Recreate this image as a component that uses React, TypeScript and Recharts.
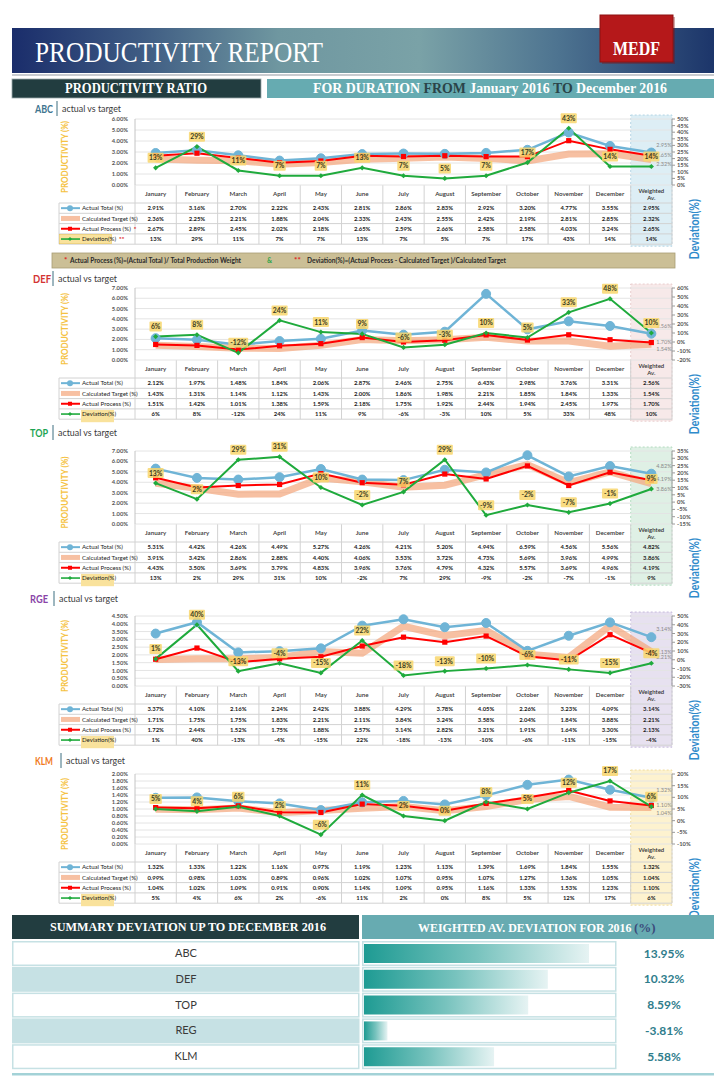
import React from 'react';
import { ComposedChart, Line, XAxis, YAxis, CartesianGrid, LabelList, BarChart, Bar } from 'recharts';

const SANS = "Lato, 'Liberation Sans', 'DejaVu Sans', sans-serif";
const SERIF = "'Liberation Serif', 'DejaVu Serif', serif";

// ---------- data ----------
const MONTHS = ['January', 'February', 'March', 'April', 'May', 'June', 'July', 'August', 'September', 'October', 'November', 'December', 'Weighted Av.'];

const ABC_TOTAL = [2.91, 3.16, 2.70, 2.22, 2.43, 2.81, 2.86, 2.83, 2.92, 3.20, 4.77, 3.55, 2.95];
const ABC_TARGET = [2.36, 2.25, 2.21, 1.88, 2.04, 2.33, 2.43, 2.55, 2.42, 2.19, 2.81, 2.85, 2.32];
const ABC_PROCESS = [2.67, 2.89, 2.45, 2.02, 2.18, 2.65, 2.59, 2.66, 2.58, 2.58, 4.03, 3.24, 2.65];
const ABC_DEV = [13, 29, 11, 7, 7, 13, 7, 5, 7, 17, 43, 14, 14];
const ABC_LEFT_TICKS = [0, 1, 2, 3, 4, 5, 6];
const ABC_RIGHT_TICKS = [0, 5, 10, 15, 20, 25, 30, 35, 40, 45, 50];

const DEF_TOTAL = [2.12, 1.97, 1.48, 1.84, 2.06, 2.87, 2.46, 2.75, 6.43, 2.98, 3.76, 3.31, 2.56];
const DEF_TARGET = [1.43, 1.31, 1.14, 1.12, 1.43, 2.00, 1.86, 1.98, 2.21, 1.85, 1.84, 1.33, 1.54];
const DEF_PROCESS = [1.51, 1.42, 1.01, 1.38, 1.59, 2.18, 1.75, 1.92, 2.44, 1.94, 2.45, 1.97, 1.70];
const DEF_DEV = [6, 8, -12, 24, 11, 9, -6, -3, 10, 5, 33, 48, 10];
const DEF_LEFT_TICKS = [0, 1, 2, 3, 4, 5, 6, 7];
const DEF_RIGHT_TICKS = [-20, -10, 0, 10, 20, 30, 40, 50, 60];

const TOP_TOTAL = [5.31, 4.42, 4.26, 4.49, 5.27, 4.26, 4.21, 5.20, 4.94, 6.59, 4.56, 5.56, 4.82];
const TOP_TARGET = [3.91, 3.42, 2.86, 2.88, 4.40, 4.06, 3.53, 3.72, 4.73, 5.69, 3.96, 4.99, 3.86];
const TOP_PROCESS = [4.43, 3.50, 3.69, 3.79, 4.83, 3.96, 3.76, 4.79, 4.32, 5.57, 3.69, 4.96, 4.19];
const TOP_DEV = [13, 2, 29, 31, 10, -2, 7, 29, -9, -2, -7, -1, 9];
const TOP_LEFT_TICKS = [0, 1, 2, 3, 4, 5, 6, 7];
const TOP_RIGHT_TICKS = [-15, -10, -5, 0, 5, 10, 15, 20, 25, 30, 35];

const RGE_TOTAL = [3.37, 4.10, 2.16, 2.24, 2.42, 3.88, 4.29, 3.78, 4.05, 2.26, 3.23, 4.09, 3.14];
const RGE_TARGET = [1.71, 1.75, 1.75, 1.83, 2.21, 2.11, 3.84, 3.24, 3.58, 2.04, 1.84, 3.88, 2.21];
const RGE_PROCESS = [1.72, 2.44, 1.52, 1.75, 1.88, 2.57, 3.14, 2.82, 3.21, 1.91, 1.64, 3.30, 2.13];
const RGE_DEV = [1, 40, -13, -4, -15, 22, -18, -13, -10, -6, -11, -15, -4];
const RGE_LEFT_TICKS = [0, 0.5, 1, 1.5, 2, 2.5, 3, 3.5, 4, 4.5];
const RGE_RIGHT_TICKS = [-30, -20, -10, 0, 10, 20, 30, 40, 50];

const KLM_TOTAL = [1.32, 1.33, 1.22, 1.16, 0.97, 1.19, 1.23, 1.13, 1.39, 1.69, 1.84, 1.55, 1.32];
const KLM_TARGET = [0.99, 0.98, 1.03, 0.89, 0.96, 1.02, 1.07, 0.95, 1.07, 1.27, 1.36, 1.05, 1.04];
const KLM_PROCESS = [1.04, 1.02, 1.09, 0.91, 0.90, 1.14, 1.09, 0.95, 1.16, 1.33, 1.53, 1.23, 1.10];
const KLM_DEV = [5, 4, 6, 2, -6, 11, 2, 0, 8, 5, 12, 17, 6];
const KLM_LEFT_TICKS = [0, 0.2, 0.4, 0.6, 0.8, 1, 1.2, 1.4, 1.6, 1.8, 2];
const KLM_RIGHT_TICKS = [-10, -5, 0, 5, 10, 15, 20];

const SUMMARY_NAMES = ['ABC', 'DEF', 'TOP', 'REG', 'KLM'];
const SUMMARY_VALUES = [13.95, 10.32, 8.59, -3.81, 5.58];
const BAR_BASE = -5.88;
const BAR_MAX = 16.15;

// ---------- layout ----------
const PLOT_L = 135;
const PLOT_R = 672;
const COL_W = (PLOT_R - PLOT_L) / 13;
const LAX_W = 30;
const RAX_W = 40;
const PAD_T = 18;
const PAD_B = 4;
const HDR_H = 18;
const ROW_H = 10.3;
const LEG_L = 59;

type Section = {
  name: string; color: string;
  total: number[]; target: number[]; process: number[]; dev: number[];
  leftTicks: number[]; rightTicks: number[];
  titleX: number; sepX: number; titleY: number; plotTop: number; plotBottom: number;
  hiFill: string; hiStroke: string; stars: boolean;
};

const SECTIONS: Section[] = [
  { name: 'ABC', color: '#3f7590', total: ABC_TOTAL, target: ABC_TARGET, process: ABC_PROCESS, dev: ABC_DEV, leftTicks: ABC_LEFT_TICKS, rightTicks: ABC_RIGHT_TICKS, titleX: 35, sepX: 57, titleY: 113, plotTop: 119, plotBottom: 185, hiFill: '#ddeef5', hiStroke: '#a7cde0', stars: true },
  { name: 'DEF', color: '#d33434', total: DEF_TOTAL, target: DEF_TARGET, process: DEF_PROCESS, dev: DEF_DEV, leftTicks: DEF_LEFT_TICKS, rightTicks: DEF_RIGHT_TICKS, titleX: 33, sepX: 53, titleY: 283, plotTop: 288, plotBottom: 360, hiFill: '#f7e9e9', hiStroke: '#e4c4c4', stars: false },
  { name: 'TOP', color: '#1da453', total: TOP_TOTAL, target: TOP_TARGET, process: TOP_PROCESS, dev: TOP_DEV, leftTicks: TOP_LEFT_TICKS, rightTicks: TOP_RIGHT_TICKS, titleX: 30, sepX: 53, titleY: 437, plotTop: 451, plotBottom: 524, hiFill: '#dff0e5', hiStroke: '#a5d4b4', stars: false },
  { name: 'RGE', color: '#8a45a8', total: RGE_TOTAL, target: RGE_TARGET, process: RGE_PROCESS, dev: RGE_DEV, leftTicks: RGE_LEFT_TICKS, rightTicks: RGE_RIGHT_TICKS, titleX: 30, sepX: 54, titleY: 603, plotTop: 616, plotBottom: 686, hiFill: '#e7e1f0', hiStroke: '#bcaed5', stars: false },
  { name: 'KLM', color: '#f07a1c', total: KLM_TOTAL, target: KLM_TARGET, process: KLM_PROCESS, dev: KLM_DEV, leftTicks: KLM_LEFT_TICKS, rightTicks: KLM_RIGHT_TICKS, titleX: 35, sepX: 61, titleY: 765, plotTop: 774, plotBottom: 844, hiFill: '#fdf2cf', hiStroke: '#ecd590', stars: false },
];

const C_TOTAL = '#6fb4d6';
const C_TARGET = '#f3a57a';
const C_PROCESS = '#ff0000';
const C_DEV = '#1faa3c';

const pct2 = (v: number) => `${v.toFixed(2)}%`;
const pct0 = (v: number) => `${v}%`;

// ---------- chart pieces ----------
const tickStyle = { fontSize: 5.8, fill: '#555', fontWeight: 700, fontFamily: SANS };

const DevLabel = (p: any) => {
  const { x, y, value } = p;
  if (x == null || y == null || value == null) return null;
  const t = `${value}%`;
  const w = t.length * 3.7 + 5;
  return (
    <g>
      <rect x={x - w / 2} y={y - 15} width={w} height={10} rx={1} fill="#f8d66c" fillOpacity={0.85} />
      <text x={x} y={y - 7.6} textAnchor="middle" fontSize={6.8} fontWeight={700} fill="#3a3a20" fontFamily={SANS}>{t}</text>
    </g>
  );
};

const makeWLabel = (dy: number) => (p: any) => {
  const { x, y, value } = p;
  if (x == null || y == null || value == null) return null;
  if (x < PLOT_R - COL_W) return null;
  return <text x={x + 5} y={y + dy} fontSize={5.5} fill="#8a8a8a" fontFamily={SANS}>{pct2(Number(value))}</text>;
};

const SquareDot = (p: any) => {
  const { cx, cy, index } = p;
  if (cx == null || cy == null) return <g key={index} />;
  return <rect key={index} x={cx - 2.6} y={cy - 2.6} width={5.2} height={5.2} fill={C_PROCESS} />;
};

const DiamondDot = (p: any) => {
  const { cx, cy, index } = p;
  if (cx == null || cy == null) return <g key={index} />;
  return <path key={index} d={`M${cx} ${cy - 2.6}L${cx + 2.6} ${cy}L${cx} ${cy + 2.6}L${cx - 2.6} ${cy}Z`} fill={C_DEV} />;
};

function SectionChart({ s }: { s: Section }) {
  const data = MONTHS.map((m, i) => ({ i, m, total: s.total[i], target: s.target[i], process: s.process[i], dev: s.dev[i] }));
  const plotH = s.plotBottom - s.plotTop;
  const lt = s.leftTicks;
  const rt = s.rightTicks;
  return (
    <ComposedChart
      width={720}
      height={plotH + PAD_T + PAD_B}
      data={data}
      margin={{ top: PAD_T, bottom: PAD_B, left: PLOT_L - LAX_W, right: 720 - PLOT_R - RAX_W }}
    >
      <CartesianGrid yAxisId="l" vertical={false} stroke="#e4e4e4" />
      <XAxis dataKey="i" type="number" domain={[-0.5, 12.5]} allowDataOverflow hide />
      <YAxis yAxisId="l" width={LAX_W} domain={[lt[0], lt[lt.length - 1]]} ticks={lt} interval={0}
        tickFormatter={(v: number) => pct2(v)} tickLine={false} axisLine={{ stroke: '#c4c4c4' }}
        tickSize={5} tickMargin={2} tick={tickStyle} />
      <YAxis yAxisId="r" orientation="right" width={RAX_W} domain={[rt[0], rt[rt.length - 1]]} ticks={rt} interval={0}
        tickFormatter={(v: number) => `${v}%`} tickLine={{ stroke: '#9a9a9a' }} axisLine={{ stroke: '#9a9a9a' }}
        tickSize={3} tickMargin={2} tick={tickStyle} />
      <Line yAxisId="l" dataKey="target" stroke={C_TARGET} strokeOpacity={0.7} strokeWidth={7} dot={false} isAnimationActive={false}>
        <LabelList dataKey="target" content={makeWLabel(7)} />
      </Line>
      <Line yAxisId="l" dataKey="total" stroke={C_TOTAL} strokeWidth={2.5} dot={{ r: 4.5, fill: C_TOTAL, stroke: C_TOTAL, strokeWidth: 1 }} isAnimationActive={false}>
        <LabelList dataKey="total" content={makeWLabel(-6)} />
      </Line>
      <Line yAxisId="l" dataKey="process" stroke={C_PROCESS} strokeWidth={2} dot={SquareDot} isAnimationActive={false}>
        <LabelList dataKey="process" content={makeWLabel(1)} />
      </Line>
      <Line yAxisId="r" dataKey="dev" stroke={C_DEV} strokeWidth={2} dot={DiamondDot} isAnimationActive={false}>
        <LabelList dataKey="dev" content={DevLabel} />
      </Line>
    </ComposedChart>
  );
}

// ---------- static svg pieces ----------
function LegendIcon({ kind, cy }: { kind: string; cy: number }) {
  const x1 = 61, x2 = 80, cx = 70;
  if (kind === 'total') return (
    <g><line x1={x1} x2={x2} y1={cy} y2={cy} stroke={C_TOTAL} strokeWidth={2} /><circle cx={cx} cy={cy} r={3} fill={C_TOTAL} /></g>
  );
  if (kind === 'target') return <line x1={x1} x2={x2} y1={cy} y2={cy} stroke={C_TARGET} strokeOpacity={0.7} strokeWidth={5} />;
  if (kind === 'process') return (
    <g><line x1={x1} x2={x2} y1={cy} y2={cy} stroke={C_PROCESS} strokeWidth={2} /><rect x={cx - 2} y={cy - 2} width={4} height={4} fill={C_PROCESS} /></g>
  );
  return (
    <g><line x1={x1} x2={x2} y1={cy} y2={cy} stroke={C_DEV} strokeWidth={1.6} /><path d={`M${cx} ${cy - 2}L${cx + 2} ${cy}L${cx} ${cy + 2}L${cx - 2} ${cy}Z`} fill={C_DEV} /></g>
  );
}

function SectionStatic({ s }: { s: Section }) {
  const tTop = s.plotBottom;
  const rowTop = tTop + HDR_H;
  const tBottom = rowTop + 4 * ROW_H;
  const wx = PLOT_L + 12 * COL_W;
  const rows = [
    { kind: 'total', label: 'Actual Total (%)', vals: s.total, fmt: pct2, star: '' },
    { kind: 'target', label: 'Calculated Target (%)', vals: s.target, fmt: pct2, star: '' },
    { kind: 'process', label: 'Actual Process (%)', vals: s.process, fmt: pct2, star: s.stars ? '*' : '' },
    { kind: 'dev', label: 'Deviation(%)', vals: s.dev, fmt: pct0, star: s.stars ? '**' : '' },
  ];
  const lineC = '#d2d2d2';
  return (
    <g>
      <rect x={wx} y={s.plotTop - 4} width={COL_W} height={tBottom + 2 - (s.plotTop - 4)} fill={s.hiFill} stroke={s.hiStroke} strokeDasharray="2 2" strokeWidth={0.8} />
      <text x={s.titleX} y={s.titleY} fill={s.color} fontSize={11.5} fontWeight={700} fontFamily={SANS} textLength={18} lengthAdjust="spacingAndGlyphs">{s.name}</text>
      <line x1={s.sepX} x2={s.sepX} y1={s.titleY - 12} y2={s.titleY + 3} stroke="#3d6f80" strokeWidth={1} />
      <text x={s.sepX + 5} y={s.titleY - 1} fontSize={9.5} fill="#3a3a3a" fontFamily={SANS} textLength={59} lengthAdjust="spacingAndGlyphs">actual vs target</text>
      <text transform={`translate(64 ${(s.plotTop + s.plotBottom) / 2 + 5}) rotate(-90)`} textAnchor="middle" dominantBaseline="central"
        fontSize={9} fontWeight={700} fill="#f5c242" fontFamily={SANS} textLength={72} lengthAdjust="spacingAndGlyphs">PRODUCTIVITY (%)</text>
      <text transform={`translate(694 ${tBottom - 15}) rotate(-90)`} textAnchor="middle" dominantBaseline="central"
        fontSize={13} fontWeight={700} fill="#2f8bcb" fontFamily={SANS} textLength={60} lengthAdjust="spacingAndGlyphs">Deviation(%)</text>

      {/* table grid */}
      {Array.from({ length: 14 }, (_, k) => (
        <line key={'v' + k} x1={PLOT_L + k * COL_W} x2={PLOT_L + k * COL_W} y1={tTop} y2={tBottom} stroke={lineC} strokeWidth={1} />
      ))}
      <line x1={LEG_L} x2={LEG_L} y1={rowTop} y2={tBottom} stroke={lineC} strokeWidth={1} />
      {[0, 1, 2, 3, 4].map((r) => (
        <line key={'h' + r} x1={LEG_L} x2={PLOT_R} y1={rowTop + r * ROW_H} y2={rowTop + r * ROW_H} stroke={lineC} strokeWidth={1} />
      ))}
      {/* month header */}
      {MONTHS.map((m, i) => {
        const cx = PLOT_L + (i + 0.5) * COL_W;
        if (i === 12) {
          return (
            <text key={'m' + i} x={cx} textAnchor="middle" fontSize={6} fontWeight={600} fill="#333" fontFamily={SANS}>
              <tspan x={cx} y={tTop + 7.5}>Weighted</tspan>
              <tspan x={cx} y={tTop + 15}>Av.</tspan>
            </text>
          );
        }
        return <text key={'m' + i} x={cx} y={tTop + 11} textAnchor="middle" fontSize={6.2} fontWeight={600} fill="#333" fontFamily={SANS}>{m}</text>;
      })}
      {/* rows */}
      {rows.map((r, ri) => {
        const cy = rowTop + ri * ROW_H + ROW_H / 2;
        return (
          <g key={'r' + ri}>
            {r.kind === 'dev' && (
              s.stars
                ? <rect x={LEG_L + 0.5} y={cy - ROW_H / 2 + 0.5} width={52} height={ROW_H - 1} fill="#f9e29c" stroke="#e6c55f" strokeWidth={0.6} />
                : <rect x={81} y={cy - ROW_H / 2 + 1} width={33} height={ROW_H + 2} fill="#f9e29c" />
            )}
            <LegendIcon kind={r.kind} cy={cy} />
            <text x={82} y={cy + 2.1} fontSize={6.1} fill="#222" fontFamily={SANS}>
              {r.label}
              {r.star && <tspan fill="#e02020" fontWeight={700} dx={3}>{r.star}</tspan>}
            </text>
            {r.vals.map((v, i) => (
              <text key={i} x={PLOT_L + (i + 0.5) * COL_W} y={cy + 2.1} textAnchor="middle" fontSize={5.9} fontWeight={700} fill="#222" fontFamily={SANS}>{r.fmt(v)}</text>
            ))}
          </g>
        );
      })}
    </g>
  );
}

function StaticLayer() {
  const sumRowTop = 941;
  const sumRowStep = 25.8;
  return (
    <svg width={720} height={1091} style={{ position: 'absolute', left: 0, top: 0 }}>
      <defs>
        <linearGradient id="bannerGrad" x1="0" y1="0" x2="1" y2="0">
          <stop offset="0" stopColor="#1a2d6b" />
          <stop offset="0.18" stopColor="#3d5a82" />
          <stop offset="0.38" stopColor="#6f97a0" />
          <stop offset="0.58" stopColor="#7aa2a7" />
          <stop offset="0.78" stopColor="#4d7390" />
          <stop offset="1" stopColor="#1c356a" />
        </linearGradient>
      </defs>
      {/* header */}
      <rect x={12} y={74} width={702} height={2} fill="#c9ccd0" />
      <rect x={12} y={28} width={702} height={45} fill="url(#bannerGrad)" />
      <text x={35} y={62} fill="#ffffff" fontSize={30} fontFamily={SERIF} textLength={288} lengthAdjust="spacingAndGlyphs">PRODUCTIVITY REPORT</text>
      <rect x={602} y={17} width={73} height={47} fill="#7a0d0d" opacity={0.35} />
      <rect x={600} y={15} width={73} height={47} fill="#b5181a" stroke="#8e1010" strokeWidth={1} />
      <text x={636.5} y={55} textAnchor="middle" fill="#ffffff" fontSize={18} fontWeight={700} fontFamily={SERIF} textLength={47} lengthAdjust="spacingAndGlyphs">MEDF</text>

      <rect x={12} y={79} width={249} height={19} fill="#223d40" stroke="#9aa9ab" strokeWidth={0.8} />
      <text x={136} y={93.3} textAnchor="middle" fill="#ffffff" fontSize={14} fontWeight={700} fontFamily={SERIF} textLength={142} lengthAdjust="spacingAndGlyphs">PRODUCTIVITY RATIO</text>
      <rect x={267} y={79} width={447} height={19} fill="#66abb1" />
      <text x={313} y={93.3} fill="#ffffff" fontSize={14} fontWeight={700} fontFamily={SERIF} textLength={354} lengthAdjust="spacingAndGlyphs">
        FOR DURATION <tspan fill="#2b4448">FROM</tspan> January 2016 <tspan fill="#2b4448">TO</tspan> December 2016
      </text>

      {SECTIONS.map((s) => <SectionStatic key={s.name} s={s} />)}

      {/* note bar */}
      <rect x={52} y={253} width={623} height={15} fill="#cbbf96" stroke="#a89d74" strokeWidth={0.8} />
      <text x={64} y={262.5} fill="#e02020" fontSize={8} fontWeight={700} fontFamily={SANS}>*</text>
      <text x={70} y={263} fill="#2a2a2a" fontSize={6.6} fontWeight={700} fontFamily={SANS} textLength={171} lengthAdjust="spacingAndGlyphs">Actual Process (%)=(Actual Total )/ Total Production Weight</text>
      <text x={267} y={263} fill="#2fa44a" fontSize={7} fontWeight={700} fontFamily={SANS}>&amp;</text>
      <text x={294} y={262.5} fill="#e02020" fontSize={8} fontWeight={700} fontFamily={SANS}>**</text>
      <text x={307} y={263} fill="#2a2a2a" fontSize={6.6} fontWeight={700} fontFamily={SANS} textLength={199} lengthAdjust="spacingAndGlyphs">Deviation(%)=(Actual Process  - Calculated Target )/Calculated Target</text>

      {/* summary */}
      <rect x={12} y={915} width={347} height={24} fill="#223d40" />
      <text x={50} y={931} fill="#ffffff" fontSize={13} fontWeight={700} fontFamily={SERIF} textLength={276} lengthAdjust="spacingAndGlyphs">SUMMARY DEVIATION UP TO DECEMBER 2016</text>
      <rect x={362} y={915} width={352} height={24} fill="#67abb1" />
      <text transform="translate(418 931.5) scale(0.92 1)" fill="#ffffff" fontSize={13} fontWeight={700} fontFamily={SERIF}>WEIGHTED AV. DEVIATION FOR 2016</text>
      <text x={634} y={931.5} fill="#3b4c7c" fontSize={13} fontWeight={700} fontFamily={SERIF}>(%)</text>
      {SUMMARY_NAMES.map((n, r) => {
        const y = sumRowTop + r * sumRowStep;
        return (
          <g key={n}>
            <rect x={12.75} y={y + 0.75} width={346} height={23.5} fill={r % 2 === 1 ? '#c6e1e4' : '#ffffff'} stroke="#c6e1e4" strokeWidth={1.5} />
            <text x={186} y={y + 16} textAnchor="middle" fontSize={11} fill="#3a3a3a" fontFamily={SANS}>{n}</text>
            <rect x={362.75} y={y + 0.75} width={253} height={23.5} fill="#ffffff" stroke="#c6e1e4" strokeWidth={1.5} />
            <text x={664} y={y + 16.5} textAnchor="middle" fontSize={12} fontWeight={700} fill="#2f7d8c" fontFamily={SANS}>{pct2(SUMMARY_VALUES[r])}</text>
          </g>
        );
      })}
      <rect x={12} y={1073} width={702} height={2.5} fill="#a3d2d7" />
    </svg>
  );
}

function SummaryBars() {
  const data = SUMMARY_NAMES.map((name, i) => ({ name, value: SUMMARY_VALUES[i] }));
  return (
    <BarChart width={250} height={129} data={data} layout="vertical" margin={{ top: 0, right: 0, bottom: 0, left: 0 }}>
      <defs>
        <linearGradient id="sumGrad" x1="0" y1="0" x2="1" y2="0">
          <stop offset="0" stopColor="#1e9b93" />
          <stop offset="0.5" stopColor="#78c3be" />
          <stop offset="1" stopColor="#e6f3f3" />
        </linearGradient>
      </defs>
      <XAxis type="number" domain={[BAR_BASE, BAR_MAX]} allowDataOverflow hide />
      <YAxis type="category" dataKey="name" hide />
      <Bar dataKey={(d: any) => [BAR_BASE, d.value]} barSize={19} fill="url(#sumGrad)" isAnimationActive={false} />
    </BarChart>
  );
}

export default function App() {
  return (
    <div style={{ position: 'absolute', left: 0, top: 0, width: 720, height: 1091, background: '#ffffff', overflow: 'hidden', fontFamily: SANS }}>
      <StaticLayer />
      {SECTIONS.map((s) => (
        <div key={s.name} style={{ position: 'absolute', left: 0, top: s.plotTop - PAD_T }}>
          <SectionChart s={s} />
        </div>
      ))}
      <div style={{ position: 'absolute', left: 364, top: 941 }}>
        <SummaryBars />
      </div>
    </div>
  );
}
